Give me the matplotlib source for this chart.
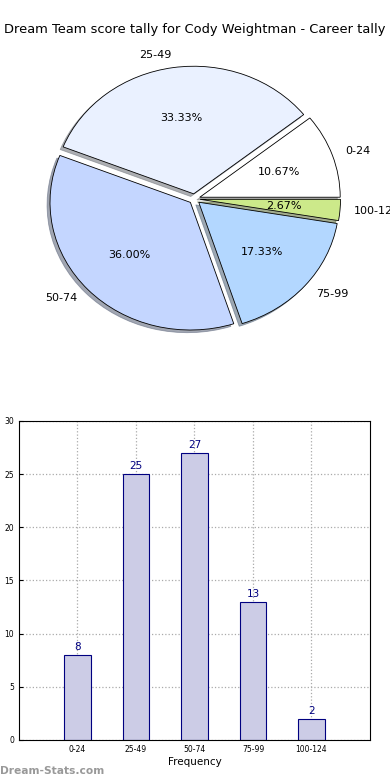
import matplotlib
matplotlib.use("Agg")
import matplotlib.pyplot as plt

categories = ["0-24", "25-49", "50-74", "75-99", "100-124"]
pie_labels = ["0-24", "25-49", "50-74", "75-99", "100-124"]
counts = [8, 25, 27, 13, 2]
pie_colors = ["#ffffff", "#eaf1ff", "#c4d6ff", "#b3d7ff", "#cce98a"]
title = "Dream Team score tally for Cody Weightman - Career tally"

fig = plt.figure(figsize=(3.9, 7.8), dpi=100)

# Pie
ax1 = fig.add_axes([0.0487, 0.5405, 0.9, 0.409])
wedges, texts, autotexts = ax1.pie(
    counts, labels=pie_labels, colors=pie_colors, autopct="%1.2f%%",
    explode=[0.04] * len(counts),
    shadow=dict(ox=-0.015, oy=-0.015, shade=0.5, alpha=0.6), startangle=0,
    wedgeprops=dict(edgecolor="black", linewidth=0.6),
    textprops=dict(fontsize=8))
ax1.set_aspect("auto")
ax1.set_xlim(-1.25, 1.25)
ax1.set_ylim(-1.25, 1.25)
fig.text(0.5, 0.962, title, ha="center", va="center", fontsize=9.4)

# Bars
ax2 = fig.add_axes([0.0487, 0.0513, 0.9, 0.409])
x = list(range(len(categories)))
ax2.bar(x, counts, width=0.45, color="#ccccE6", edgecolor="#000080", linewidth=0.8, zorder=2)
for xi, c in zip(x, counts):
    ax2.text(xi, c + 0.3, str(c), ha="center", va="bottom", color="#000080", fontsize=7.5)
ax2.set_xlim(-1, 5)
ax2.set_ylim(0, 30)
ax2.set_xticks(x)
ax2.set_xticklabels(categories, fontsize=5.5)
ax2.set_yticks(range(0, 31, 5))
ax2.tick_params(axis="y", labelsize=5.5, direction="in", length=3)
ax2.tick_params(axis="x", direction="in", length=3)
ax2.grid(True, linestyle=":", color="#aaaaaa", linewidth=0.9, zorder=0)
ax2.set_axisbelow(True)
ax2.set_xlabel("Frequency", fontsize=7.5, labelpad=2)
ax2.set_ylabel("Score Count", fontsize=6.5, labelpad=1)

fig.text(0.0, 0.005, "Dream-Stats.com", color="#999999", fontsize=7.7, fontweight="bold",
         ha="left", va="bottom")

fig.savefig("out.png", dpi=100)
